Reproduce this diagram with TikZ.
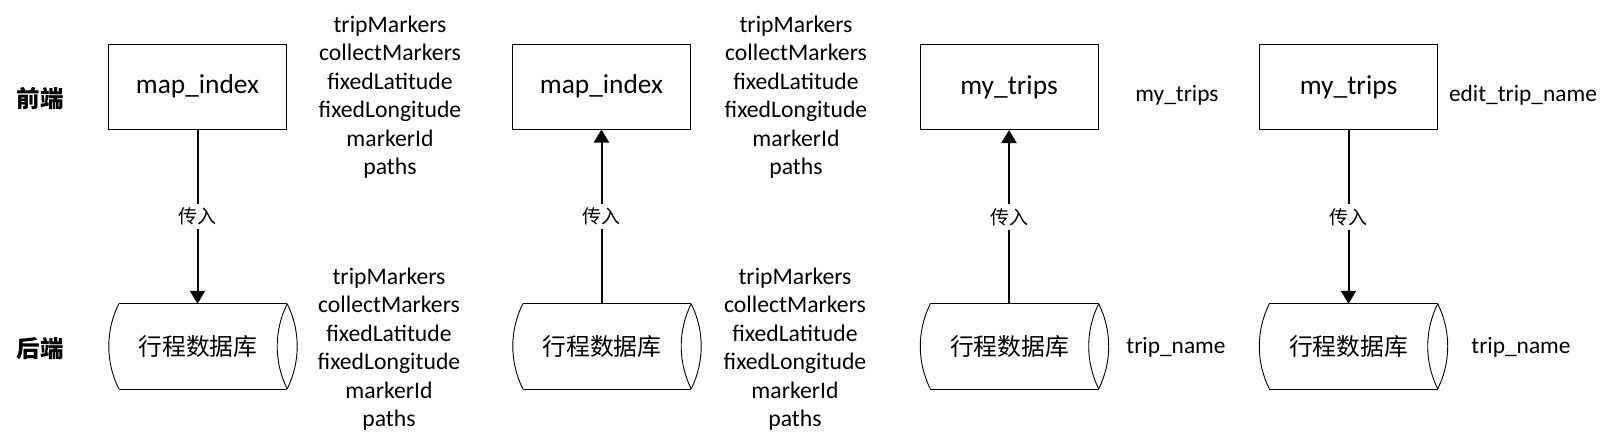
\documentclass[tikz,border=0pt]{standalone}
\usepackage{fontspec}
\setmainfont{Carlito}
\newfontfamily\cjk{Noto Sans CJK SC}
\usetikzlibrary{arrows.meta,calc}
\begin{document}
\begin{tikzpicture}[x=1pt,y=-1pt,
  box/.style={draw=black,line width=1pt,minimum width=178pt,minimum height=85pt,inner sep=0pt,font=\fontsize{27.4}{33}\selectfont},
  cyl/.style={minimum width=178pt,minimum height=85pt,inner sep=0pt,font=\cjk\fontsize{23.8}{28}\selectfont},
  cylline/.style={draw=black,line width=0.9pt},
  lst/.style={align=center,inner sep=0pt,font=\fontsize{23.7}{28.5}\selectfont},
  lbl/.style={inner sep=0pt,font=\fontsize{23.4}{28}\selectfont},
  side/.style={inner sep=0pt,font=\cjk\bfseries\fontsize{23.5}{28}\selectfont},
  arr/.style={line width=2pt,-{Triangle[width=15pt,length=13pt]}},
  pass/.style={fill=white,inner sep=4pt,font=\cjk\fontsize{19}{22}\selectfont}]
\useasboundingbox (0,0) rectangle (1614,445);
\fill[white] (0,0) rectangle (1614,445);

% side labels
\node[side] (fe) at (40,99) {前端};
\node[side] (be) at (40,349) {后端};

% boxes
\node[box] (b1) at (197.5,86.5) {map\_index};
\node[box] (b2) at (601.5,86.5) {map\_index};
\node[box] (b3) at (1009,87) {my\_trips};
\node[box] (b4) at (1348.5,87) {my\_trips};

% cylinders (lens-shaped ends made of circular arcs)
\foreach \n/\x in {c1/198,c2/602,c3/1009.5,c4/1348.5}{
  \node[cyl] (\n) at (\x,346.5) {行程数据库};
  \draw[cylline] ([xshift=10pt]\n.north west) -- (\n.north east);
  \draw[cylline] ([xshift=10pt]\n.south west) -- (\n.south east);
  \draw[cylline] ([xshift=10pt]\n.north west) arc[start angle=153.5,end angle=206.5,radius=95.3pt];
  \draw[cylline] (\n.north east) arc[start angle=153.5,end angle=206.5,radius=95.3pt];
  \draw[cylline] (\n.north east) arc[start angle=26.5,end angle=-26.5,radius=95.3pt];
}

% connectors
\draw[arr] (b1.south) -- node[pass]{传入} (b1.south |- c1.north);
\draw[arr] (c2.north -| b2.south) -- node[pass]{传入} (b2.south);
\draw[arr] (c3.north -| b3.south) -- node[pass]{传入} (b3.south);
\draw[arr] (b4.south) -- node[pass]{传入} (b4.south |- c4.north);

% data lists
\node[lst] (l1) at (390,97) {tripMarkers\\collectMarkers\\fixedLatitude\\fixedLongitude\\markerId\\paths};
\node[lst] (l2) at (796,97) {tripMarkers\\collectMarkers\\fixedLatitude\\fixedLongitude\\markerId\\paths};
\node[lst] (l3) at (389,349) {tripMarkers\\collectMarkers\\fixedLatitude\\fixedLongitude\\markerId\\paths};
\node[lst] (l4) at (795,349) {tripMarkers\\collectMarkers\\fixedLatitude\\fixedLongitude\\markerId\\paths};

% other labels
\node[lbl] (t1) at (1177,95) {my\_trips};
\node[lbl] (t2) at (1523,95) {edit\_trip\_name};
\node[lbl] (t3) at (1176,347) {trip\_name};
\node[lbl] (t4) at (1521,347) {trip\_name};
\end{tikzpicture}
\end{document}
